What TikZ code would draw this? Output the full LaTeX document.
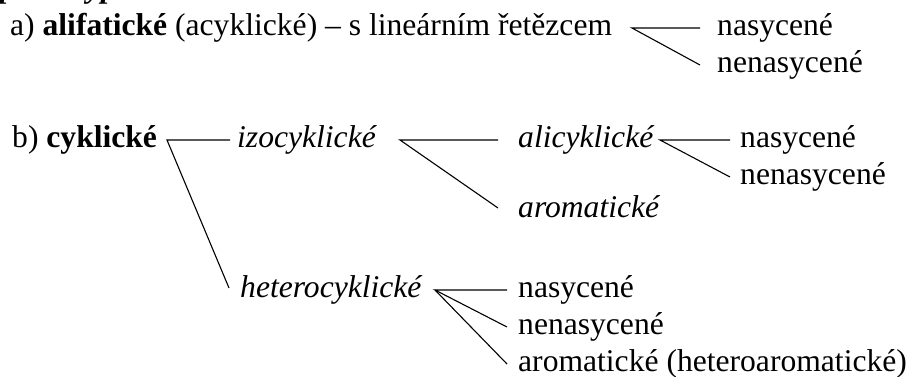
\documentclass[tikz,border=0pt]{standalone}
\usepackage{fontspec}
\setmainfont{Liberation Serif}
\usetikzlibrary{calc}
\newcommand{\fsz}{\fontsize{31.6}{37}\selectfont}
\begin{document}
\begin{tikzpicture}[x=1pt,y=-1pt,
  lbl/.style={anchor=base west, inner sep=0pt, font=\fsz},
  ilbl/.style={lbl, font=\fsz\itshape},
  conn/.style={line width=1.1pt, line join=miter}]
\useasboundingbox (0,0) rectangle (915,376);
% clipped heading
\node[lbl, font=\fsz\bfseries\itshape] (head) at (0,-3) {podle typu řetězce};
% a)
\node[lbl] (a) at (10,35) {a) \textbf{alifatické} (acyklické) – s lineárním řetězcem};
\node[lbl] (nasA) at (717,35) {nasycené};
\node[lbl] (nenA) at (717,72) {nenasycené};
% b)
\node[lbl] (b) at (12,147) {b) \textbf{cyklické}};
\node[ilbl] (izo) at (237,147) {izocyklické};
\node[ilbl] (ali) at (518,147) {alicyklické};
\node[ilbl] (aro) at (518,217) {aromatické};
\node[lbl] (nasB) at (740,147) {nasycené};
\node[lbl] (nenB) at (740,184) {nenasycené};
\node[ilbl] (het) at (240,297) {heterocyklické};
\node[lbl] (nasC) at (518,297) {nasycené};
\node[lbl] (nenC) at (518,334) {nenasycené};
\node[lbl] (aroC) at (518,371) {aromatické (heteroaromatické)};
% fork apexes
\coordinate (fa) at (632,28);
\coordinate (fb) at (167,140);
\coordinate (fi) at (400,140);
\coordinate (fal) at (660,140);
\coordinate (fh) at (435,290);
% connectors
\draw[conn] ([shift={(-17pt,7pt)}]nasA.base west) -- (fa) -- ([shift={(-17pt,7pt)}]nenA.base west);
\draw[conn] ([shift={(-7pt,7pt)}]izo.base west) -- (fb) -- ([shift={(-11pt,9pt)}]het.base west);
\draw[conn] ([shift={(-20pt,7pt)}]ali.base west) -- (fi) -- ([shift={(-20pt,9pt)}]aro.base west);
\draw[conn] ([shift={(-10pt,7pt)}]nasB.base west) -- (fal) -- ([shift={(-10pt,7pt)}]nenB.base west);
\draw[conn] ([shift={(-11pt,7pt)}]nasC.base west) -- (fh) -- ([shift={(-11pt,7pt)}]nenC.base west);
\draw[conn] (fh) -- ([shift={(-11pt,7pt)}]aroC.base west);
\end{tikzpicture}
\end{document}
